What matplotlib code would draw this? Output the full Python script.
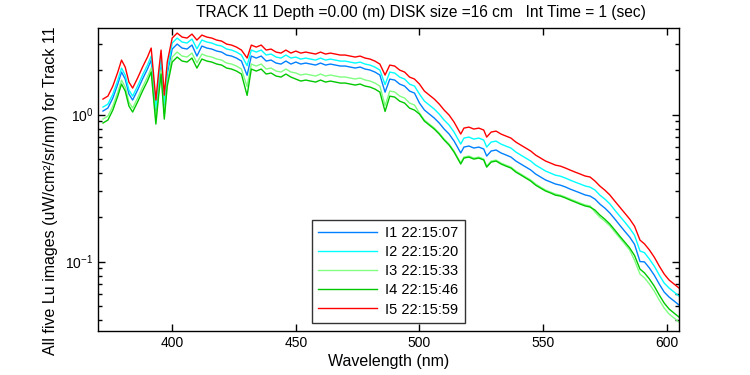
import matplotlib
matplotlib.use("Agg")
import matplotlib.pyplot as plt
from matplotlib.ticker import LogLocator, FixedLocator, NullLocator

plt.rcParams['font.family'] = ['Liberation Sans', 'DejaVu Sans']
plt.rcParams['mathtext.fontset'] = 'custom'
plt.rcParams['mathtext.rm'] = 'Liberation Sans'

# wavelength grid (nm)
wavelength = [372, 374, 376, 378, 379.5, 381, 382.5, 384, 386, 388, 390, 391.5, 393.4, 394.5, 395.5, 396.8, 398,
              400, 402, 404, 406, 408, 410, 412, 414, 416, 418, 420, 422, 424, 426, 428, 430.3, 432, 434, 436, 438,
              440, 442, 444, 446, 448, 450, 452, 454, 456, 458, 460, 462, 464, 466, 468, 470, 472, 474, 476, 478,
              480, 482, 484, 486.1, 488, 490, 492, 494, 496, 498, 500, 502, 504, 506, 508, 510, 512, 514, 516.7,
              518, 520, 522, 524, 526, 527.2, 529, 531, 533, 535, 537, 539, 541, 543, 545, 547, 549, 551, 553, 555,
              557, 559, 561, 563, 565, 567, 569, 571, 573, 575, 577, 579, 581, 583, 585, 587, 589.2, 591, 593, 595,
              597, 599, 601, 603, 605]

lu_i1 = [1.057, 1.108, 1.296, 1.613, 1.947, 1.744, 1.379, 1.255, 1.468, 1.744, 2.041, 2.350, 1.040, 1.613, 2.277, 1.125, 1.887,
         2.791, 3.018, 2.835, 2.791, 2.971, 2.50, 2.925, 2.835, 2.791, 2.705, 2.662, 2.540, 2.501, 2.423, 2.313, 1.85, 2.501, 2.423, 2.501, 2.313,
         2.349, 2.241, 2.206, 2.313, 2.206, 2.277, 2.206, 2.241, 2.206, 2.172, 2.241, 2.172, 2.206, 2.172, 2.139, 2.139, 2.105, 2.073, 2.105, 2.041,
         2.009, 1.946, 1.857, 1.42, 1.743, 1.717, 1.612, 1.563, 1.445, 1.400, 1.198, 1.074, 1.008, 0.947, 0.876, 0.797, 0.737, 0.661, 0.548,
         0.601, 0.611, 0.592, 0.601, 0.583, 0.522, 0.565, 0.574, 0.548, 0.531, 0.514, 0.483, 0.461, 0.440, 0.420, 0.394, 0.376, 0.359, 0.348, 0.337,
         0.331, 0.322, 0.311, 0.302, 0.293, 0.284, 0.279, 0.266, 0.246, 0.231, 0.214, 0.195, 0.177, 0.161, 0.147, 0.131, 0.100, 0.0995, 0.0905, 0.0807,
         0.0703, 0.0620, 0.0573, 0.0539, 0.0506]

lu_i2 = [1.125, 1.178, 1.379, 1.716, 2.071, 1.856, 1.468, 1.335, 1.562, 1.856, 2.172, 2.500, 1.107, 1.716, 2.423, 1.197, 2.007,
         3.066, 3.315, 3.114, 3.066, 3.263, 2.80, 3.213, 3.114, 3.066, 2.971, 2.925, 2.791, 2.747, 2.662, 2.541, 2.15, 2.747, 2.662, 2.747, 2.541,
         2.581, 2.462, 2.424, 2.541, 2.424, 2.461, 2.384, 2.422, 2.384, 2.348, 2.422, 2.348, 2.384, 2.348, 2.311, 2.311, 2.275, 2.240, 2.275, 2.206,
         2.171, 2.103, 2.007, 1.60, 1.945, 1.916, 1.798, 1.744, 1.612, 1.563, 1.379, 1.235, 1.160, 1.090, 1.008, 0.917, 0.848, 0.760, 0.630,
         0.692, 0.703, 0.681, 0.692, 0.671, 0.601, 0.650, 0.660, 0.630, 0.610, 0.592, 0.556, 0.530, 0.506, 0.483, 0.453, 0.433, 0.413, 0.400, 0.387,
         0.381, 0.370, 0.358, 0.347, 0.337, 0.327, 0.321, 0.307, 0.283, 0.266, 0.247, 0.224, 0.204, 0.186, 0.169, 0.151, 0.118, 0.115, 0.104, 0.093,
         0.0810, 0.0714, 0.0660, 0.0620, 0.0582]

lu_i3 = [0.932, 0.977, 1.143, 1.423, 1.716, 1.538, 1.216, 1.107, 1.295, 1.538, 1.800, 2.072, 0.917, 1.423, 2.008, 0.992, 1.664,
         2.463, 2.663, 2.502, 2.463, 2.621, 2.25, 2.581, 2.502, 2.463, 2.387, 2.349, 2.242, 2.207, 2.138, 2.041, 1.55, 2.207, 2.138, 2.207, 2.041,
         2.073, 1.978, 1.947, 2.041, 1.947, 1.917, 1.858, 1.887, 1.858, 1.829, 1.887, 1.829, 1.858, 1.829, 1.801, 1.801, 1.773, 1.746, 1.773, 1.719,
         1.692, 1.638, 1.563, 1.15, 1.446, 1.424, 1.337, 1.296, 1.198, 1.161, 1.024, 0.918, 0.862, 0.810, 0.749, 0.681, 0.630, 0.565, 0.468,
         0.514, 0.522, 0.506, 0.514, 0.498, 0.446, 0.483, 0.490, 0.468, 0.453, 0.439, 0.413, 0.394, 0.376, 0.359, 0.337, 0.321, 0.307, 0.297, 0.288,
         0.283, 0.275, 0.266, 0.258, 0.250, 0.243, 0.239, 0.217, 0.200, 0.188, 0.175, 0.159, 0.145, 0.132, 0.120, 0.102, 0.0822, 0.0775, 0.0704, 0.0628,
         0.0547, 0.0483, 0.0439, 0.0413, 0.0387]

lu_i4 = [0.876, 0.918, 1.074, 1.337, 1.613, 1.445, 1.143, 1.040, 1.217, 1.445, 1.691, 1.948, 0.862, 1.337, 1.887, 0.932, 1.564,
         2.277, 2.462, 2.313, 2.277, 2.424, 2.07, 2.387, 2.313, 2.277, 2.207, 2.172, 2.073, 2.040, 1.977, 1.887, 1.35, 2.040, 1.977, 2.040, 1.887,
         1.917, 1.829, 1.800, 1.887, 1.800, 1.744, 1.690, 1.717, 1.690, 1.664, 1.717, 1.664, 1.690, 1.664, 1.638, 1.638, 1.613, 1.588, 1.613, 1.563,
         1.539, 1.491, 1.422, 1.05, 1.335, 1.315, 1.234, 1.197, 1.106, 1.073, 1.008, 0.903, 0.848, 0.797, 0.737, 0.671, 0.620, 0.556, 0.461,
         0.506, 0.514, 0.498, 0.506, 0.491, 0.439, 0.475, 0.483, 0.461, 0.446, 0.433, 0.406, 0.388, 0.370, 0.353, 0.331, 0.316, 0.302, 0.293, 0.283,
         0.279, 0.271, 0.262, 0.254, 0.246, 0.239, 0.235, 0.224, 0.207, 0.194, 0.180, 0.164, 0.149, 0.136, 0.124, 0.110, 0.0889, 0.0838, 0.0762, 0.0679,
         0.0592, 0.0522, 0.0475, 0.0446, 0.0419]

lu_i5 = [1.275, 1.336, 1.563, 1.946, 2.348, 2.104, 1.664, 1.514, 1.771, 2.104, 2.462, 2.835, 1.255, 1.946, 2.747, 1.357, 2.276,
         3.315, 3.584, 3.367, 3.315, 3.528, 3.212, 3.474, 3.367, 3.315, 3.212, 3.162, 3.017, 2.970, 2.878, 2.747, 2.424, 2.970, 2.878, 2.970, 2.747,
         2.790, 2.662, 2.620, 2.747, 2.620, 2.704, 2.620, 2.662, 2.620, 2.580, 2.662, 2.580, 2.620, 2.580, 2.540, 2.540, 2.500, 2.462, 2.500, 2.424,
         2.386, 2.311, 2.205, 1.857, 2.171, 2.138, 2.007, 1.946, 1.799, 1.744, 1.613, 1.445, 1.357, 1.275, 1.179, 1.073, 0.992, 0.889, 0.737,
         0.809, 0.822, 0.797, 0.809, 0.785, 0.703, 0.760, 0.772, 0.737, 0.714, 0.692, 0.650, 0.620, 0.592, 0.565, 0.530, 0.506, 0.483, 0.468, 0.453,
         0.446, 0.433, 0.419, 0.406, 0.394, 0.382, 0.376, 0.353, 0.326, 0.306, 0.284, 0.258, 0.235, 0.214, 0.195, 0.174, 0.140, 0.132, 0.120, 0.107,
         0.0932, 0.0822, 0.0748, 0.0703, 0.0660]

labels = ['I1 22:15:07', 'I2 22:15:20', 'I3 22:15:33', 'I4 22:15:46', 'I5 22:15:59']
colors = ['#0080ff', '#00ffff', '#80ff80', '#00c800', '#ff0000']
series = [lu_i1, lu_i2, lu_i3, lu_i4, lu_i5]

fig = plt.figure(figsize=(7.5, 3.75), dpi=100)
ax = fig.add_axes([0.1307, 0.1173, 0.7747, 0.808])

for vals, col, lab in zip(series, colors, labels):
    ax.plot(wavelength, vals, color=col, lw=1.0, label=lab)

ax.set_yscale('log')
ax.set_xlim(370, 605)
ax.set_ylim(0.0337, 3.88)

ax.xaxis.set_major_locator(FixedLocator([400, 450, 500, 550, 600]))
ax.xaxis.set_minor_locator(NullLocator())
ax.yaxis.set_major_locator(LogLocator(base=10))
ax.yaxis.set_minor_locator(LogLocator(base=10, subs=range(2, 10)))

ax.tick_params(which='both', direction='in', top=True, right=True, labelsize=10, colors='black')
ax.tick_params(which='major', length=5, width=1)
ax.tick_params(which='minor', length=3, width=1)
for s in ax.spines.values():
    s.set_linewidth(1)

ax.set_xlabel('Wavelength (nm)', fontsize=11.5, labelpad=3)
fig.text(0.067, 0.492, 'All five Lu images (uW/cm\u00b2/sr/nm) for Track 11', rotation=90,
         ha='center', va='center', fontsize=11.5)
fig.text(0.561, 0.966, 'TRACK 11 Depth =0.00 (m) DISK size =16 cm   Int Time = 1 (sec)',
         ha='center', va='center', fontsize=11.2)

leg = ax.legend(loc='lower left', bbox_to_anchor=(0.368, 0.026), fontsize=10.5, frameon=True,
                fancybox=False, edgecolor='black', handlelength=4.0, borderaxespad=0,
                labelspacing=0.35, handletextpad=0.6, borderpad=0.45)
leg.get_frame().set_linewidth(1)

fig.savefig('out.png', dpi=100, facecolor='white')
